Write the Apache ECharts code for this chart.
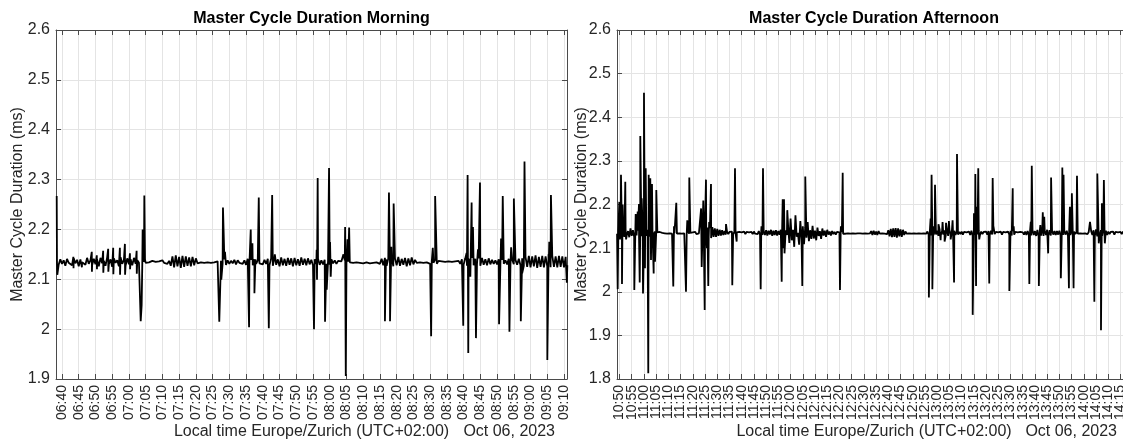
<!DOCTYPE html>
<html><head><meta charset="utf-8">
<script src="https://cdn.jsdelivr.net/npm/echarts@6/dist/echarts.min.js"></script>
<style>html,body{margin:0;padding:0;background:#fff}#c{width:1123px;height:441px}</style>
</head><body><div id="c"></div>
<script>
// ---------- tick labels ----------
const morningTicks = ['06:40','06:45','06:50','06:55','07:00','07:05','07:10','07:15','07:20','07:25','07:30','07:35','07:40','07:45','07:50','07:55','08:00','08:05','08:10','08:15','08:20','08:25','08:30','08:35','08:40','08:45','08:50','08:55','09:00','09:05','09:10'];
const afternoonTicks = ['10:50','10:55','11:00','11:05','11:10','11:15','11:20','11:25','11:30','11:35','11:40','11:45','11:50','11:55','12:00','12:05','12:10','12:15','12:20','12:25','12:30','12:35','12:40','12:45','12:50','12:55','13:00','13:05','13:10','13:15','13:20','13:25','13:30','13:35','13:40','13:45','13:50','13:55','14:00','14:05','14:10','14:15'];

// ---------- morning data (time in minutes of day) ----------
const morningBaseStart = 398.5;   // 06:38:30
const morningBaseStep = 0.5;      // minutes
const morningBase = [
2.136,2.129,2.140,2.131,2.138,2.127,2.141,2.133,2.137,2.128,2.142,2.132,2.139,2.126,2.140,2.134,2.137,2.129,2.143,2.131,
2.138,2.128,2.141,2.130,2.139,2.126,2.143,2.132,2.137,2.127,2.144,2.130,2.140,2.125,2.142,2.133,2.138,2.126,2.144,2.131,
2.139,2.127,2.142,2.130,2.140,2.128,2.143,2.131,2.138,2.133,2.136,2.134,2.135,2.133,2.136,2.134,2.135,2.137,2.133,2.135,
2.134,2.136,2.132,2.138,2.133,2.135,2.131,2.137,2.127,2.146,2.124,2.148,2.126,2.145,2.123,2.147,2.125,2.146,2.127,2.144,
2.126,2.145,2.128,2.142,2.132,2.136,2.134,2.135,2.133,2.136,2.134,2.135,2.133,2.136,2.134,2.133,2.136,2.134,2.137,2.132,
2.140,2.129,2.138,2.131,2.137,2.132,2.139,2.130,2.138,2.133,2.136,2.131,2.138,2.129,2.141,2.130,2.139,2.128,2.140,2.131,
2.138,2.132,2.136,2.130,2.139,2.131,2.141,2.128,2.142,2.127,2.143,2.129,2.140,2.126,2.144,2.128,2.141,2.127,2.143,2.129,
2.142,2.126,2.143,2.128,2.140,2.127,2.144,2.129,2.141,2.128,2.142,2.130,2.139,2.128,2.140,2.131,2.141,2.129,2.138,2.130,
2.139,2.131,2.137,2.129,2.140,2.132,2.138,2.131,2.137,2.133,2.136,2.132,2.138,2.133,2.135,2.134,2.137,2.133,2.136,2.134,
2.135,2.133,2.137,2.132,2.136,2.134,2.138,2.132,2.135,2.133,2.137,2.134,2.136,2.131,2.141,2.128,2.143,2.127,2.142,2.129,
2.144,2.126,2.142,2.128,2.145,2.127,2.141,2.129,2.143,2.126,2.142,2.128,2.144,2.130,2.139,2.133,2.136,2.134,2.137,2.133,
2.135,2.134,2.137,2.131,2.136,2.133,2.139,2.131,2.137,2.133,2.136,2.134,2.135,2.133,2.136,2.134,2.135,2.134,2.136,2.133,
2.137,2.131,2.140,2.129,2.142,2.127,2.141,2.129,2.143,2.128,2.141,2.130,2.142,2.127,2.143,2.129,2.140,2.128,2.142,2.130,
2.139,2.131,2.138,2.130,2.140,2.129,2.139,2.131,2.138,2.130,2.141,2.128,2.140,2.130,2.139,2.129,2.141,2.128,2.142,2.127,
2.145,2.125,2.147,2.124,2.146,2.126,2.148,2.123,2.145,2.125,2.147,2.124,2.146,2.126,2.145,2.124,2.147,2.125,2.146,2.124,
2.147,2.125,2.146,2.124,2.145,2.128
];
const morningSpikeTime = [
398.42,398.6,403.4,403.45,405.9,405.95,408.9,408.95,410.4,410.45,412.3,412.35,413.8,413.85,415.3,415.35,417.3,417.35,418.8,418.85,420.3,420.35,422.3,422.35,
423.52,423.8,424.1,424.3,424.6,424.8,
447.0,447.6,448.1,448.4,448.7,
455.9,456.4,456.9,457.5,457.8,458.8,461.8,462.8,463.6,
475.3,475.7,476.1,476.2,476.4,478.6,479.1,479.8,480.1,480.3,
484.1,484.6,484.8,485.3,485.8,
496.5,496.8,497.7,498.02,498.4,499.1,
510.3,510.8,511.5,
519.9,520.9,521.2,521.4,522.02,522.4,522.8,523.7,524.3,524.9,
530.6,531.2,531.7,533.7,534.2,535.02,537.1,537.5,538.2,
545.02,545.4,545.6,546.1,550.85
];
const morningSpikeValue = [
2.267,2.109,2.145,2.122,2.144,2.124,2.155,2.115,2.148,2.120,2.157,2.113,2.161,2.115,2.163,2.110,2.163,2.109,2.171,2.109,2.152,2.120,2.157,2.111,
2.016,2.048,2.200,2.160,2.268,2.140,
2.015,2.099,2.244,2.170,2.155,
2.004,2.200,2.172,2.072,2.140,2.264,2.002,2.269,2.150,
2.000,2.140,2.159,2.099,2.303,2.015,2.079,2.323,2.175,2.105,
2.150,2.205,1.906,2.180,2.204,
2.016,2.140,2.274,2.016,2.165,2.252,
1.986,2.163,2.267,
2.007,2.153,2.309,1.952,2.105,2.254,2.205,1.982,2.160,2.294,
2.010,2.182,2.267,1.995,2.164,2.262,2.016,2.112,2.336,
1.938,2.150,2.175,2.269,2.093
];

// ---------- afternoon data (time in minutes of day) ----------
const afternoonBaseStart = 649.0;  // 10:49:00
const afternoonBaseStep = 0.5;
const afternoonBase = [
2.133,2.141,2.127,2.143,2.129,2.140,2.126,2.144,2.130,2.139,2.125,2.145,2.128,2.141,2.126,2.143,2.129,2.140,2.124,2.146,
2.127,2.143,2.125,2.145,2.128,2.142,2.126,2.144,2.129,2.140,2.131,2.138,2.133,2.136,2.134,2.137,2.133,2.135,2.136,2.134,
2.135,2.133,2.136,2.134,2.135,2.133,2.137,2.134,2.135,2.133,2.136,2.134,2.137,2.133,2.135,2.134,2.138,2.132,2.139,2.133,
2.135,2.134,2.136,2.133,2.137,2.132,2.136,2.134,2.138,2.131,2.142,2.127,2.145,2.124,2.147,2.125,2.146,2.123,2.148,2.126,
2.145,2.126,2.144,2.128,2.142,2.129,2.141,2.130,2.139,2.131,2.138,2.132,2.137,2.133,2.138,2.132,2.137,2.134,2.136,2.133,
2.137,2.133,2.136,2.134,2.138,2.132,2.137,2.133,2.136,2.134,2.137,2.132,2.138,2.133,2.136,2.132,2.139,2.131,2.140,2.130,
2.139,2.130,2.141,2.129,2.140,2.131,2.142,2.128,2.140,2.130,2.141,2.129,2.139,2.131,2.142,2.128,2.140,2.129,2.141,2.130,
2.150,2.112,2.168,2.118,2.142,2.103,2.175,2.126,2.135,2.108,2.162,2.120,2.150,2.109,2.148,2.124,2.160,2.116,2.141,2.121,
2.151,2.122,2.140,2.118,2.147,2.128,2.139,2.121,2.145,2.129,2.140,2.126,2.142,2.131,2.138,2.129,2.139,2.132,2.137,2.131,
2.137,2.133,2.136,2.134,2.137,2.133,2.136,2.133,2.137,2.134,2.135,2.133,2.136,2.134,2.135,2.133,2.136,2.134,2.135,2.134,
2.136,2.133,2.135,2.134,2.136,2.133,2.135,2.134,2.139,2.130,2.140,2.131,2.138,2.130,2.139,2.133,2.136,2.134,2.135,2.133,
2.136,2.132,2.141,2.127,2.144,2.125,2.145,2.126,2.146,2.124,2.145,2.127,2.143,2.126,2.142,2.130,2.138,2.133,2.136,2.134,
2.135,2.133,2.136,2.134,2.135,2.133,2.136,2.134,2.137,2.133,2.135,2.134,2.136,2.133,2.138,2.131,2.140,2.129,2.141,2.130,
2.139,2.131,2.140,2.128,2.142,2.130,2.139,2.131,2.141,2.129,2.140,2.128,2.142,2.130,2.139,2.131,2.140,2.130,2.138,2.131,
2.137,2.132,2.138,2.131,2.137,2.133,2.136,2.132,2.138,2.130,2.140,2.129,2.141,2.130,2.139,2.131,2.140,2.130,2.138,2.132,
2.137,2.133,2.138,2.131,2.139,2.130,2.140,2.131,2.138,2.132,2.137,2.133,2.136,2.132,2.138,2.131,2.137,2.133,2.136,2.132,
2.138,2.131,2.140,2.129,2.139,2.131,2.137,2.133,2.136,2.132,2.137,2.133,2.136,2.131,2.138,2.130,2.139,2.131,2.140,2.129,
2.141,2.130,2.139,2.128,2.142,2.127,2.141,2.129,2.143,2.128,2.140,2.130,2.142,2.128,2.141,2.129,2.140,2.131,2.139,2.130,
2.139,2.131,2.140,2.129,2.141,2.130,2.139,2.131,2.140,2.128,2.141,2.130,2.139,2.131,2.138,2.132,2.137,2.133,2.136,2.134,
2.135,2.133,2.136,2.134,2.135,2.132,2.137,2.133,2.139,2.130,2.141,2.128,2.143,2.127,2.142,2.129,2.141,2.128,2.143,2.127,
2.140,2.130,2.138,2.132,2.137,2.133,2.138,2.131,2.137,2.133,2.136,2.134,2.137,2.132,2.138,2.133,2.136,2.134,2.137,2.133,
2.135,2.134
];
const afternoonSpikeTime = [
649.26,649.6,649.92,650.2,650.61,651.02,651.3,652.37,652.7,
656.06,656.63,657.45,657.98,658.27,658.51,659.08,659.62,660.02,660.43,660.72,661.78,661.95,662.6,662.89,663.3,663.99,664.53,665.06,
672.01,672.3,673.24,677.21,677.74,678.56,
683.4,683.63,684.29,684.86,685.1,685.39,685.8,686.33,686.7,687.44,687.8,
693.58,696.15,697.26,697.95,
707.77,708.1,708.72,
716.37,716.78,717.1,717.31,717.52,718.66,
724.8,725.2,726.02,
740.22,740.6,741.33,
776.6,777.3,777.7,778.02,778.4,779.1,780.52,781.4,782.2,783.02,783.6,784.8,785.52,786.3,786.9,788.1,
794.52,795.05,795.6,795.9,796.3,796.8,797.2,
801.3,802.7,803.02,809.52,810.9,811.3,817.7,818.3,818.7,
821.6,822.2,823.2,823.8,825.4,826.6,
830.6,831.2,831.52,831.7,833.9,834.3,835.1,835.8,837.2,
842.52,844.3,845.52,846.1,847.02,847.4,848.2,848.6
];
const afternoonSpikeValue = [
2.006,2.150,2.206,2.120,2.268,2.018,2.200,2.252,2.120,
2.004,2.178,2.184,2.201,2.021,2.357,2.214,1.996,2.456,2.054,2.283,1.813,2.268,2.260,2.073,2.247,2.042,2.069,2.233,
2.012,2.150,2.204,2.000,2.164,2.262,
2.191,2.057,2.209,1.958,2.180,2.257,2.100,2.013,2.160,2.247,2.120,
2.155,2.015,2.283,2.115,
2.006,2.150,2.283,
2.023,2.212,2.100,2.212,2.088,2.187,
2.013,2.150,2.264,
2.004,2.150,2.273,
1.987,2.168,2.268,2.006,2.150,2.245,2.155,2.118,2.160,2.115,2.158,2.162,2.120,2.164,2.021,2.316,
1.947,2.180,2.270,2.013,2.195,2.283,2.120,
2.019,2.261,2.150,2.002,2.237,2.150,2.018,2.160,2.289,
2.013,2.153,2.182,2.172,2.088,2.262,
2.031,2.285,2.150,2.268,2.008,2.195,2.226,2.008,2.266,
2.160,1.977,2.271,2.111,1.912,2.203,2.256,2.111
];

// ---------- helpers ----------
const FONT = '"Liberation Sans", Arial, Helvetica, sans-serif';
const TXT = '#262626', AX = '#4a4a4a', GRIDC = '#e4e4e4';
function toMin(s){ const p = s.split(':'); return (+p[0]) * 60 + (+p[1]); }
function build(start, step, base, st, sv){
  const pts = base.map((v, i) => [start + i * step, v]);
  st.forEach((t, i) => pts.push([t, sv[i]]));
  pts.sort((a, b) => a[0] - b[0]);
  return pts;
}
function xAxes(gridIndex, ticks, min, max){
  const vals = ticks.map(toMin);
  const lab = {}; ticks.forEach(t => { lab[toMin(t)] = t; });
  // empty labels at the axis ends absorb ECharts' min/max label overlap handling
  const labelVals = [min].concat(vals, [max]);
  return [
    { type:'value', gridIndex, position:'bottom', min, max,
      axisLine:{ show:true, onZero:false, lineStyle:{ color:AX, width:1 } },
      axisTick:{ show:true, inside:true, length:5, customValues: vals, lineStyle:{ color:AX } },
      axisLabel:{ show:true, customValues: labelVals, interval:0, rotate:90, margin:6, fontSize:14, color:TXT, fontFamily:FONT,
                  hideOverlap:false,
                  formatter: v => { const k = Math.round(v); return (Math.abs(v - k) < 1e-6 && lab[k]) ? lab[k] : ''; } },
      splitLine:{ show:true, lineStyle:{ color:GRIDC, width:1 } },
      name:'Local time Europe/Zurich (UTC+02:00)', nameLocation:'middle', nameGap:45, nameMoveOverlap:false,
      nameTextStyle:{ fontSize:16, color:TXT, fontFamily:FONT } },
    { type:'value', gridIndex, position:'top', min, max,
      axisLine:{ show:true, onZero:false, lineStyle:{ color:AX, width:1 } },
      axisTick:{ show:true, inside:true, length:5, customValues: vals, lineStyle:{ color:AX } },
      axisLabel:{ show:false }, splitLine:{ show:false } }
  ];
}
function yAxes(gridIndex, min, nameGap){
  return [
    { type:'value', gridIndex, position:'left', min, max:2.6, interval:0.1,
      axisLine:{ show:true, onZero:false, lineStyle:{ color:AX, width:1 } },
      axisTick:{ show:true, inside:true, length:5, lineStyle:{ color:AX } },
      axisLabel:{ fontSize:16, color:TXT, margin:6, fontFamily:FONT, showMinLabel:true, showMaxLabel:true },
      splitLine:{ show:true, lineStyle:{ color:GRIDC, width:1 } },
      name:'Master Cycle Duration (ms)', nameLocation:'middle', nameGap, nameMoveOverlap:false,
      nameTextStyle:{ fontSize:16, color:TXT, fontFamily:FONT } },
    { type:'value', gridIndex, position:'right', min, max:2.6, interval:0.1,
      axisLine:{ show:true, onZero:false, lineStyle:{ color:AX, width:1 } },
      axisTick:{ show:true, inside:true, length:5, lineStyle:{ color:AX } },
      axisLabel:{ show:false }, splitLine:{ show:false } }
  ];
}

const morningData = build(morningBaseStart, morningBaseStep, morningBase, morningSpikeTime, morningSpikeValue);
const afternoonData = build(afternoonBaseStart, afternoonBaseStep, afternoonBase, afternoonSpikeTime, afternoonSpikeValue);

const chart = echarts.init(document.getElementById('c'), null, { renderer:'canvas' });
chart.setOption({
  animation:false,
  backgroundColor:'#ffffff',
  grid:[
    { left:56, top:30, width:511, height:349, outerBoundsMode:'none', containLabel:false },
    { left:617, top:30, width:514, height:349, outerBoundsMode:'none', containLabel:false }
  ],
  xAxis:[].concat(xAxes(0, morningTicks, 398.21, 550.9), xAxes(1, afternoonTicks, 648.98, 859.3)),
  yAxis:[].concat(yAxes(0, 1.9, 30), yAxes(1, 1.8, 27)),
  graphic:[
    { type:'text', x:311.5, y:19, style:{ text:'Master Cycle Duration Morning', font:'bold 16px '+FONT, fill:'#000', align:'center', verticalAlign:'middle' } },
    { type:'text', x:874, y:19, style:{ text:'Master Cycle Duration Afternoon', font:'bold 16px '+FONT, fill:'#000', align:'center', verticalAlign:'middle' } },
    { type:'text', x:555, y:432, style:{ text:'Oct 06, 2023', font:'16px '+FONT, fill:TXT, align:'right', verticalAlign:'middle' } },
    { type:'text', x:1117, y:432, style:{ text:'Oct 06, 2023', font:'16px '+FONT, fill:TXT, align:'right', verticalAlign:'middle' } }
  ],
  series:[
    { type:'line', xAxisIndex:0, yAxisIndex:0, data:morningData, showSymbol:false, symbol:'none', clip:true,
      lineStyle:{ color:'#000', width:1.8 }, sampling:null, silent:true },
    { type:'line', xAxisIndex:2, yAxisIndex:2, data:afternoonData, showSymbol:false, symbol:'none', clip:true,
      lineStyle:{ color:'#000', width:1.8 }, sampling:null, silent:true }
  ]
});
</script></body></html>
